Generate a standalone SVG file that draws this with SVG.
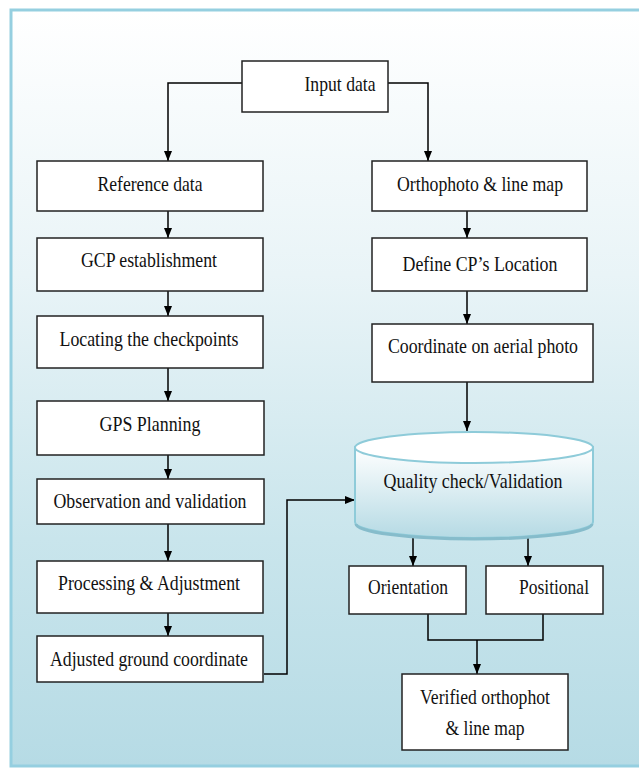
<svg xmlns="http://www.w3.org/2000/svg" width="639" height="769" viewBox="0 0 639 769">
<defs>
<linearGradient id="bg" x1="0" y1="0" x2="0" y2="1">
<stop offset="0" stop-color="#ffffff"/>
<stop offset="0.35" stop-color="#e9f4f7"/>
<stop offset="0.7" stop-color="#c9e5ec"/>
<stop offset="1" stop-color="#b6dbe5"/>
</linearGradient>
<linearGradient id="cyl" x1="0" y1="447" x2="0" y2="538" gradientUnits="userSpaceOnUse">
<stop offset="0" stop-color="#ffffff"/>
<stop offset="1" stop-color="#b5dae4"/>
</linearGradient>
<marker id="ah" viewBox="0 0 10 10" refX="10" refY="5" markerWidth="10" markerHeight="10" markerUnits="userSpaceOnUse" orient="auto">
<path d="M0,1 L10,5 L0,9 Z" fill="#000"/>
</marker>
<style>
.box{fill:#fff;stroke:#222;stroke-width:1.5}
.t{font-family:"Liberation Serif","Times New Roman",serif;font-size:21px;fill:#111;text-anchor:middle}
.c{fill:none;stroke:#000;stroke-width:1.5}
.ca{fill:none;stroke:#000;stroke-width:1.5;marker-end:url(#ah)}
</style>
</defs>
<rect x="11" y="10" width="640" height="756" fill="url(#bg)" stroke="#95cfe0" stroke-width="3"/>

<g id="connectors">
<path class="ca" d="M242,83 H168 V161"/>
<path class="ca" d="M388,83 H428 V161"/>
<path class="ca" d="M168,211 V238"/>
<path class="ca" d="M168,291 V316"/>
<path class="ca" d="M168,368 V401"/>
<path class="ca" d="M168,455 V479"/>
<path class="ca" d="M168,524 V561"/>
<path class="ca" d="M168,613 V636"/>
<path class="ca" d="M264,674 H287 V500 H355"/>
<path class="ca" d="M467,211 V238"/>
<path class="ca" d="M467,291 V324"/>
<path class="ca" d="M467,382 V431"/>
<path class="ca" d="M413,538 V566"/>
<path class="ca" d="M528,538 V566"/>
<path class="c" d="M428,614 V640 H543 V614"/>
<path class="ca" d="M477,640 V674"/>
</g>

<g id="input"><rect class="box" x="242" y="61" width="146" height="51"/><text class="t" x="340" y="91" textLength="71" lengthAdjust="spacingAndGlyphs">Input data</text></g>
<g id="reference"><rect class="box" x="37" y="161" width="226" height="50"/><text class="t" x="150" y="191" textLength="105" lengthAdjust="spacingAndGlyphs">Reference data</text></g>
<g id="gcp"><rect class="box" x="37" y="238" width="226" height="53"/><text class="t" x="149" y="267" textLength="136" lengthAdjust="spacingAndGlyphs">GCP establishment</text></g>
<g id="locating"><rect class="box" x="37" y="316" width="226" height="52"/><text class="t" x="149" y="346" textLength="179" lengthAdjust="spacingAndGlyphs">Locating the checkpoints</text></g>
<g id="gps"><rect class="box" x="37" y="401" width="227" height="54"/><text class="t" x="150" y="431" textLength="101" lengthAdjust="spacingAndGlyphs">GPS Planning</text></g>
<g id="observation"><rect class="box" x="37" y="479" width="227" height="45"/><text class="t" x="150" y="508" textLength="193" lengthAdjust="spacingAndGlyphs">Observation and validation</text></g>
<g id="processing"><rect class="box" x="37" y="561" width="226" height="52"/><text class="t" x="149" y="590" textLength="182" lengthAdjust="spacingAndGlyphs">Processing &amp; Adjustment</text></g>
<g id="adjusted"><rect class="box" x="37" y="636" width="226" height="46"/><text class="t" x="149" y="666" textLength="198" lengthAdjust="spacingAndGlyphs">Adjusted ground coordinate</text></g>

<g id="ortho"><rect class="box" x="372" y="161" width="215" height="50"/><text class="t" x="480" y="191" textLength="166" lengthAdjust="spacingAndGlyphs">Orthophoto &amp; line map</text></g>
<g id="define"><rect class="box" x="372" y="238" width="215" height="53"/><text class="t" x="480" y="271" textLength="155" lengthAdjust="spacingAndGlyphs">Define CP’s Location</text></g>
<g id="coordinate"><rect class="box" x="372" y="324" width="221" height="58"/><text class="t" x="483" y="353" textLength="190" lengthAdjust="spacingAndGlyphs">Coordinate on aerial photo</text></g>

<g id="quality">
<path d="M355,447 V522 A119,16 0 0 0 593,522 V447 Z" fill="url(#cyl)" stroke="#8ecbd9" stroke-width="2"/>
<path d="M356,524 A118,15 0 0 0 592,524" fill="none" stroke="#86bccb" stroke-width="3"/>
<ellipse cx="474" cy="447.5" rx="119" ry="15.5" fill="#fff" stroke="#8ecbd9" stroke-width="2"/>
<text class="t" x="473" y="488" textLength="179" lengthAdjust="spacingAndGlyphs">Quality check/Validation</text>
</g>

<g id="orientation"><rect class="box" x="349" y="566" width="117" height="48"/><text class="t" x="408" y="594" textLength="80" lengthAdjust="spacingAndGlyphs">Orientation</text></g>
<g id="positional"><rect class="box" x="486" y="566" width="117" height="48"/><text class="t" x="554" y="594" textLength="70" lengthAdjust="spacingAndGlyphs">Positional</text></g>
<g id="verified"><rect class="box" x="402" y="674" width="166" height="76"/><text class="t" x="485" y="704" textLength="130" lengthAdjust="spacingAndGlyphs">Verified orthophot</text><text class="t" x="485" y="735" textLength="79" lengthAdjust="spacingAndGlyphs">&amp; line map</text></g>
</svg>
